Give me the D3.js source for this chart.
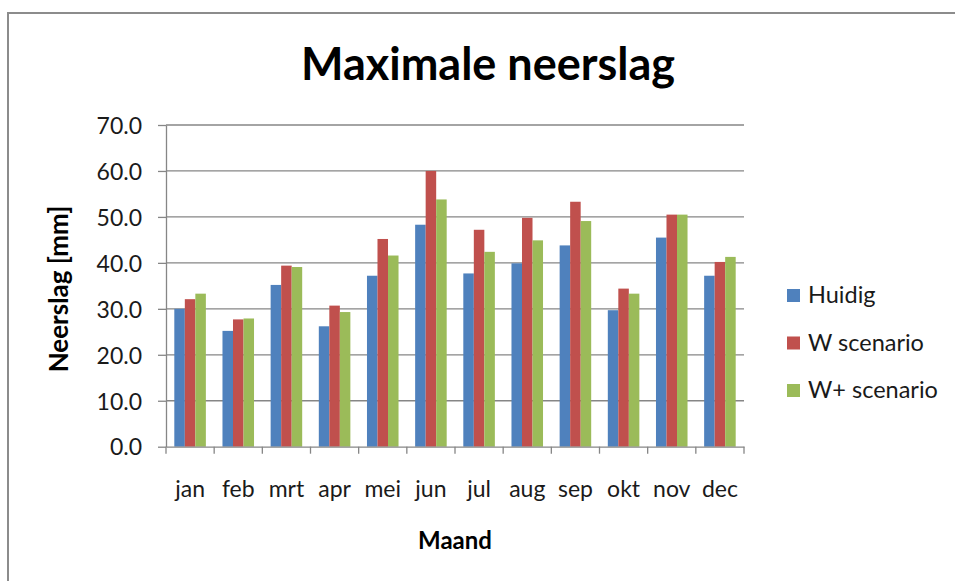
<!DOCTYPE html>
<html>
<head>
<meta charset="utf-8">
<script src="https://cdn.jsdelivr.net/npm/d3@7"></script>
<style>
  html, body { margin: 0; padding: 0; background: #fff; }
  svg { display: block; font-family: Lato, 'Liberation Sans', sans-serif; }
</style>
</head>
<body>
<div id="chart"></div>
<script>
const months = ['jan', 'feb', 'mrt', 'apr', 'mei', 'jun', 'jul', 'aug', 'sep', 'okt', 'nov', 'dec'];
const seriesNames = ['Huidig', 'W scenario', 'W+ scenario'];
const huidig = [30.0, 25.2, 35.2, 26.2, 37.2, 48.3, 37.7, 39.9, 43.8, 29.7, 45.5, 37.2];
const wScenario = [32.1, 27.7, 39.4, 30.7, 45.2, 60.0, 47.2, 49.8, 53.3, 34.4, 50.5, 40.2];
const wPlusScenario = [33.3, 27.9, 39.1, 29.3, 41.6, 53.8, 42.4, 44.9, 49.1, 33.3, 50.5, 41.3];
const yTicks = [0, 10, 20, 30, 40, 50, 60, 70];
const colors = ['#4F81BD', '#C0504D', '#9BBB59'];

const W = 955;
const H = 581;

const svg = d3.select('#chart')
  .append('svg')
  .attr('width', W)
  .attr('height', H);

// chart frame (runs off the right and bottom edge in the picture)
svg.append('rect')
  .attr('x', 8)
  .attr('y', 13)
  .attr('width', W + 10)
  .attr('height', H + 10)
  .attr('fill', '#fff')
  .attr('stroke', '#8c8c8c')
  .attr('stroke-width', 2);

// plot area
const plotLeft = 166, plotRight = 744, plotTop = 125, plotBottom = 446.7;

const x = d3.scaleBand()
  .domain(months)
  .range([plotLeft, plotRight])
  .paddingInner(0.345)
  .paddingOuter(0.1725);

const xSub = d3.scaleBand()
  .domain(seriesNames)
  .range([0, x.bandwidth()]);

const y = d3.scaleLinear()
  .domain([0, 70])
  .range([plotBottom, plotTop]);

const axisColor = '#868686';

// gridlines
svg.append('g')
  .selectAll('line')
  .data(yTicks.slice(1))
  .enter()
  .append('line')
  .attr('x1', plotLeft)
  .attr('x2', plotRight)
  .attr('y1', d => y(d))
  .attr('y2', d => y(d))
  .attr('stroke', axisColor)
  .attr('stroke-width', 1.3);

// bars
const rows = months.map((m, i) => ({ month: m, values: [huidig[i], wScenario[i], wPlusScenario[i]] }));

const groups = svg.append('g')
  .selectAll('g')
  .data(rows)
  .enter()
  .append('g')
  .attr('transform', d => 'translate(' + x(d.month) + ',0)');

groups.selectAll('rect')
  .data(d => d.values.map((v, k) => ({ name: seriesNames[k], value: v, k: k })))
  .enter()
  .append('rect')
  .attr('x', d => xSub(d.name))
  .attr('width', xSub.bandwidth())
  .attr('y', d => y(d.value))
  .attr('height', d => y(0) - y(d.value))
  .attr('fill', d => colors[d.k]);

// y axis
const yAxis = svg.append('g')
  .attr('transform', 'translate(' + plotLeft + ',0)')
  .call(d3.axisLeft(y).tickValues(yTicks).tickFormat(d3.format('.1f')).tickSize(8).tickSizeOuter(0).tickPadding(16));

yAxis.select('.domain').attr('stroke', axisColor).attr('stroke-width', 1.3);
yAxis.selectAll('.tick line').attr('stroke', axisColor).attr('stroke-width', 1.3);
yAxis.selectAll('.tick text')
  .attr('fill', '#1a1a1a')
  .style('font-size', '23px')
  .style('font-family', 'Lato, sans-serif')
  .attr('dy', '0.36em');

// x axis
const xAxis = svg.append('g')
  .attr('transform', 'translate(0,' + plotBottom + ')')
  .call(d3.axisBottom(x).tickSize(0).tickSizeOuter(0).tickPadding(34));

xAxis.select('.domain').attr('stroke', axisColor).attr('stroke-width', 1.3);
xAxis.selectAll('.tick text')
  .attr('fill', '#1a1a1a')
  .style('font-size', '23px')
  .style('font-family', 'Lato, sans-serif');

// ticks between categories
xAxis.selectAll('.sep')
  .data(d3.range(months.length + 1))
  .enter()
  .append('line')
  .attr('class', 'sep')
  .attr('x1', i => plotLeft + i * x.step())
  .attr('x2', i => plotLeft + i * x.step())
  .attr('y1', 0)
  .attr('y2', 7)
  .attr('stroke', axisColor)
  .attr('stroke-width', 1.3);

// title
svg.append('text')
  .attr('x', 488)
  .attr('y', 80)
  .attr('text-anchor', 'middle')
  .style('font-size', '45px')
  .style('font-weight', 'bold')
  .attr('fill', '#000')
  .text('Maximale neerslag');

// axis titles
svg.append('text')
  .attr('x', 455)
  .attr('y', 549)
  .attr('text-anchor', 'middle')
  .style('font-size', '24px')
  .style('font-weight', 'bold')
  .attr('fill', '#000')
  .text('Maand');

svg.append('text')
  .attr('transform', 'translate(68,289) rotate(-90)')
  .attr('text-anchor', 'middle')
  .style('font-size', '26px')
  .style('font-weight', 'bold')
  .attr('fill', '#000')
  .text('Neerslag [mm]');

// legend
const legend = svg.append('g')
  .attr('transform', 'translate(787,289)');

const item = legend.selectAll('g')
  .data(seriesNames)
  .enter()
  .append('g')
  .attr('transform', (d, i) => 'translate(0,' + i * 47.5 + ')');

item.append('rect')
  .attr('width', 13)
  .attr('height', 13)
  .attr('fill', (d, i) => colors[i]);

item.append('text')
  .attr('x', 21)
  .attr('y', 14)
  .style('font-size', '23.5px')
  .attr('fill', '#1a1a1a')
  .text(d => d);
</script>
</body>
</html>
